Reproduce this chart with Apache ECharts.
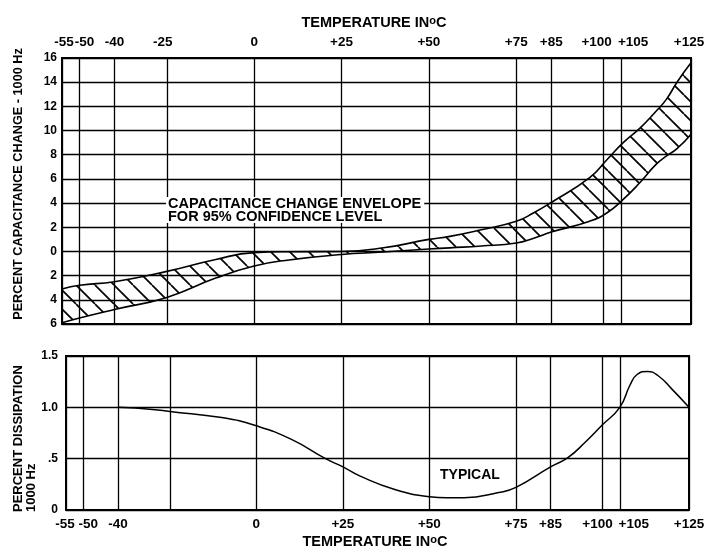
<!DOCTYPE html>
<html><head><meta charset="utf-8">
<script src="https://cdn.jsdelivr.net/npm/echarts@6/dist/echarts.min.js"></script>
<style>html,body{margin:0;padding:0;background:#fff}#c{width:713px;height:548px}</style>
</head><body><div id="c"></div>
<script>
// ---- data ----
const gridTemps = [-55, -50, -40, -25, 0, 25, 50, 75, 85, 100, 105, 125];
const topTickLabels = [-55, -50, -40, -25, 0, 25, 50, 75, 85, 100, 105, 125];
const bottomTickLabels = [-55, -50, -40, 0, 25, 50, 75, 85, 100, 105, 125];

const envTemps = [-55, -50, -40, -25, -11, 0, 10, 25, 37, 50, 56, 65, 75, 80, 85, 96, 101, 105.6, 110.4, 115, 118, 121, 125];
const envLower = [-5.9, -5.5, -4.8, -3.8, -2.2, -1.2, -0.7, -0.25, -0.05, 0.2, 0.3, 0.45, 0.7, 1.1, 1.6, 2.5, 3.2, 4.3, 5.7, 7.2, 7.9, 8.5, 9.7];
const envUpper = [-3.1, -2.8, -2.5, -1.65, -0.66, -0.1, -0.02, 0.0, 0.3, 1.0, 1.25, 1.8, 2.5, 3.2, 4.05, 6.1, 7.6, 9.0, 10.2, 11.6, 12.6, 14.0, 15.6];

const dissTemps = [-40, -30, -25, -10, 0, 10, 20, 25, 30, 40, 50, 55, 60, 70, 75, 85, 90, 95, 100, 105, 108, 110, 113, 116, 120, 125];
const dissValues = [1.0, 0.98, 0.96, 0.9, 0.82, 0.69, 0.5, 0.42, 0.33, 0.2, 0.13, 0.12, 0.12, 0.17, 0.22, 0.42, 0.51, 0.66, 0.83, 1.0, 1.22, 1.32, 1.35, 1.31, 1.18, 1.0];

// ---- chart ----
const FONT = 'Liberation Sans';
// horizontal nudges (px) of some crowded tick labels, as in the original print
const topShift = {'-55': 2, '-50': 5, '-25': -4, '100': -7, '105': 12, '125': -2};
const botShift = {'-55': -1, '-50': 5, '100': -5, '105': 14};
function makeRich(shift) {
  const r = {};
  Object.keys(shift).forEach((k, i) => {
    const d = shift[k];
    r['s' + i] = {padding: d > 0 ? [0, 0, 0, 2 * d] : [0, -2 * d, 0, 0]};
  });
  return r;
}
function makeFmt(shift) {
  const keys = Object.keys(shift);
  return function (v) {
    const txt = v > 0 ? '+' + v : String(v);
    const i = keys.indexOf(String(v));
    return i >= 0 ? '{s' + i + '|' + txt + '}' : txt;
  };
}
function hatch() {
  const s = 19, c = document.createElement('canvas');
  c.width = s; c.height = s;
  const g = c.getContext('2d');
  g.strokeStyle = '#000'; g.lineWidth = 1.7;
  for (const k of [-1, 0, 1]) { g.beginPath(); g.moveTo(k * s, 0); g.lineTo(k * s + s, s); g.stroke(); }
  return c;
}
const chart = echarts.init(document.getElementById('c'), null, {renderer: 'canvas'});
const gridLine = {show: true, lineStyle: {color: '#000', width: 1.3}};
const xLabel = {color: '#000', fontFamily: FONT, fontWeight: 'bold', fontSize: 13.5, showMinLabel: true, showMaxLabel: true, hideOverlap: false};
const yLabel = {color: '#000', fontFamily: FONT, fontWeight: 'bold', fontSize: 12};

chart.setOption({
  animation: false,
  backgroundColor: '#fff',
  grid: [
    {left: 62, right: 22, top: 58, bottom: 224, show: true, borderColor: '#000', borderWidth: 2},
    {left: 66, right: 24, top: 356, bottom: 38, show: true, borderColor: '#000', borderWidth: 2}
  ],
  xAxis: [
    {type: 'value', gridIndex: 0, position: 'top', min: -55, max: 125,
     axisLine: {show: false}, axisTick: {show: false, customValues: gridTemps},
     axisLabel: Object.assign({customValues: topTickLabels, formatter: makeFmt(topShift), rich: makeRich(topShift), margin: 9}, xLabel),
     splitLine: gridLine},
    {type: 'value', gridIndex: 1, position: 'bottom', min: -55, max: 125,
     axisLine: {show: false}, axisTick: {show: false, customValues: gridTemps},
     axisLabel: Object.assign({customValues: bottomTickLabels, formatter: makeFmt(botShift), rich: makeRich(botShift), margin: 7}, xLabel),
     splitLine: gridLine}
  ],
  yAxis: [
    {type: 'value', gridIndex: 0, min: -6, max: 16, interval: 2,
     axisLine: {show: false}, axisTick: {show: false},
     axisLabel: Object.assign({formatter: v => String(Math.abs(v)), margin: 5}, yLabel),
     splitLine: gridLine},
    {type: 'value', gridIndex: 1, min: 0, max: 1.5, interval: 0.5,
     axisLine: {show: false}, axisTick: {show: false},
     axisLabel: Object.assign({formatter: v => v === 0 ? '0' : (v === 0.5 ? '.5' : v.toFixed(1)), margin: 8}, yLabel),
     splitLine: gridLine}
  ],
  series: [
    // value column first so that stacking happens on the y dimension
    {type: 'line', name: 'lower', xAxisIndex: 0, yAxisIndex: 0, stack: 'env', stackStrategy: 'all',
     encode: {x: 1, y: 0},
     smooth: true, showSymbol: false, lineStyle: {color: '#000', width: 1.6},
     data: envTemps.map((t, i) => [envLower[i], t])},
    {type: 'line', name: 'band', xAxisIndex: 0, yAxisIndex: 0, stack: 'env', stackStrategy: 'all',
     encode: {x: 1, y: 0},
     smooth: true, showSymbol: false, lineStyle: {color: '#000', width: 1.6},
     areaStyle: {color: {image: hatch(), repeat: 'repeat'}, opacity: 1},
     data: envTemps.map((t, i) => [envUpper[i] - envLower[i], t])},
    {type: 'line', name: 'dissipation', xAxisIndex: 1, yAxisIndex: 1,
     smooth: true, showSymbol: false, lineStyle: {color: '#000', width: 1.5},
     data: dissTemps.map((t, i) => [t, dissValues[i]])}
  ],
  graphic: [
    {type: 'text', z: 100, style: {x: 374, y: 23, align: 'center', verticalAlign: 'middle',
      text: 'TEMPERATURE IN{s|o}C', fill: '#000',
      font: 'bold 14.5px ' + FONT,
      rich: {s: {fontSize: 11, fontWeight: 'bold', fontFamily: FONT, verticalAlign: 'top', lineHeight: 10, padding: [0, 0, 6, 0]}}}},
    {type: 'text', z: 100, style: {x: 375, y: 542, align: 'center', verticalAlign: 'middle',
      text: 'TEMPERATURE IN{s|o}C', fill: '#000',
      font: 'bold 14.5px ' + FONT,
      rich: {s: {fontSize: 11, fontWeight: 'bold', fontFamily: FONT, verticalAlign: 'top', lineHeight: 10, padding: [0, 0, 6, 0]}}}},
    {type: 'text', z: 100, x: 18, y: 184, rotation: Math.PI / 2,
     style: {x: 0, y: 0, align: 'center', verticalAlign: 'middle', fill: '#000',
      text: 'PERCENT CAPACITANCE CHANGE - 1000 Hz', font: 'bold 12.7px ' + FONT}},
    {type: 'text', z: 100, x: 18, y: 512, rotation: Math.PI / 2,
     style: {x: 0, y: 0, align: 'left', verticalAlign: 'middle', fill: '#000',
      text: 'PERCENT DISSIPATION', font: 'bold 13px ' + FONT}},
    {type: 'text', z: 100, x: 31, y: 512, rotation: Math.PI / 2,
     style: {x: 0, y: 0, align: 'left', verticalAlign: 'middle', fill: '#000',
      text: '1000 Hz', font: 'bold 13px ' + FONT}},
    {type: 'text', z: 100, style: {x: 166, y: 197, align: 'left', verticalAlign: 'top', fill: '#000',
      text: 'CAPACITANCE CHANGE ENVELOPE\nFOR 95% CONFIDENCE LEVEL', font: 'bold 14.5px ' + FONT,
      lineHeight: 13, backgroundColor: '#fff', padding: [0, 3, 0, 2]}},
    {type: 'text', z: 100, style: {x: 440, y: 475, align: 'left', verticalAlign: 'middle', fill: '#000',
      text: 'TYPICAL', font: 'bold 14px ' + FONT}}
  ]
});
</script></body></html>
